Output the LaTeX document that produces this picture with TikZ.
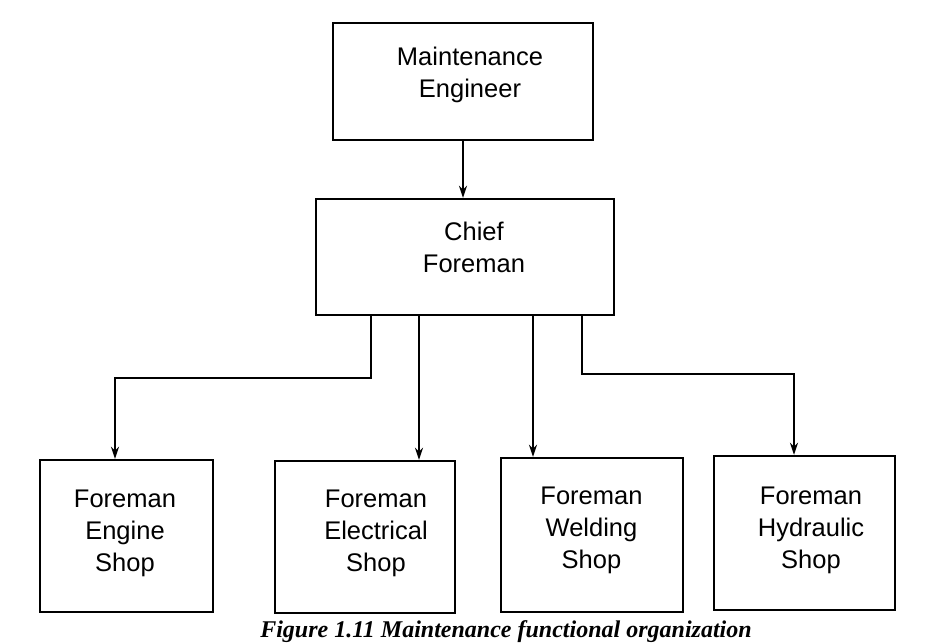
\documentclass[tikz,border=0pt]{standalone}
\usepackage{fontspec}
\setmainfont{Liberation Sans}
\newfontfamily\capfont{Liberation Serif}
\usetikzlibrary{arrows.meta}

\tikzset{
  unitbox/.style={draw, line width=2.4pt, rectangle, inner sep=0pt},
  boxtext/.style={align=center, inner sep=0pt,
    font=\fontsize{25.5pt}{32pt}\selectfont},
  link/.style={line width=1.9pt, -{Stealth[length=12pt,width=8pt]}},
}

\begin{document}
\begin{tikzpicture}[x=1pt,y=-1pt]
  \clip (0,0) rectangle (940,644);
  \fill[white] (0,0) rectangle (940,644);

  % boxes
  \node[unitbox, minimum width=260pt, minimum height=117pt] (me)   at (463,81.5) {};
  \node[unitbox, minimum width=298pt, minimum height=116pt] (chief) at (465,257) {};
  \node[unitbox, minimum width=173pt, minimum height=152pt] (eng)  at (126.5,536) {};
  \node[unitbox, minimum width=180pt, minimum height=152pt] (elec) at (365,537) {};
  \node[unitbox, minimum width=182pt, minimum height=154pt] (weld) at (592,535) {};
  \node[unitbox, minimum width=181pt, minimum height=154pt] (hyd)  at (804.5,533) {};

  % box labels
  \node[boxtext] (meT)    at (470,74.5)  {Maintenance\\Engineer};
  \node[boxtext] (chiefT) at (474,247)   {Chief\\Foreman};
  \node[boxtext] (engT)   at (125,533.5) {Foreman\\Engine\\Shop};
  \node[boxtext] (elecT)  at (376,533.5) {Foreman\\Electrical\\Shop};
  \node[boxtext] (weldT)  at (591.5,530.5) {Foreman\\Welding\\Shop};
  \node[boxtext] (hydT)   at (811,530.5) {Foreman\\Hydraulic\\Shop};

  % branch columns and knees
  \coordinate (k1) at (371,378);
  \coordinate (d1) at (115,0);
  \coordinate (d2) at (419,0);
  \coordinate (d3) at (533,0);
  \coordinate (k4) at (582,374);
  \coordinate (d4) at (794,0);

  % connectors
  \draw[link] (me.south) -- (me.south |- chief.north);
  \draw[link] (chief.south -| k1) -- (k1) -| (d1 |- eng.north);
  \draw[link] (chief.south -| d2) -- (d2 |- elec.north);
  \draw[link] (chief.south -| d3) -- (d3 |- weld.north);
  \draw[link] (chief.south -| k4) -- (k4) -| (d4 |- hyd.north);

  % caption
  \node[anchor=base, inner sep=0pt,
        font=\capfont\bfseries\itshape\fontsize{24pt}{28pt}\selectfont]
        (cap) at (506,637) {Figure 1.11 Maintenance functional organization};
\end{tikzpicture}
\end{document}
